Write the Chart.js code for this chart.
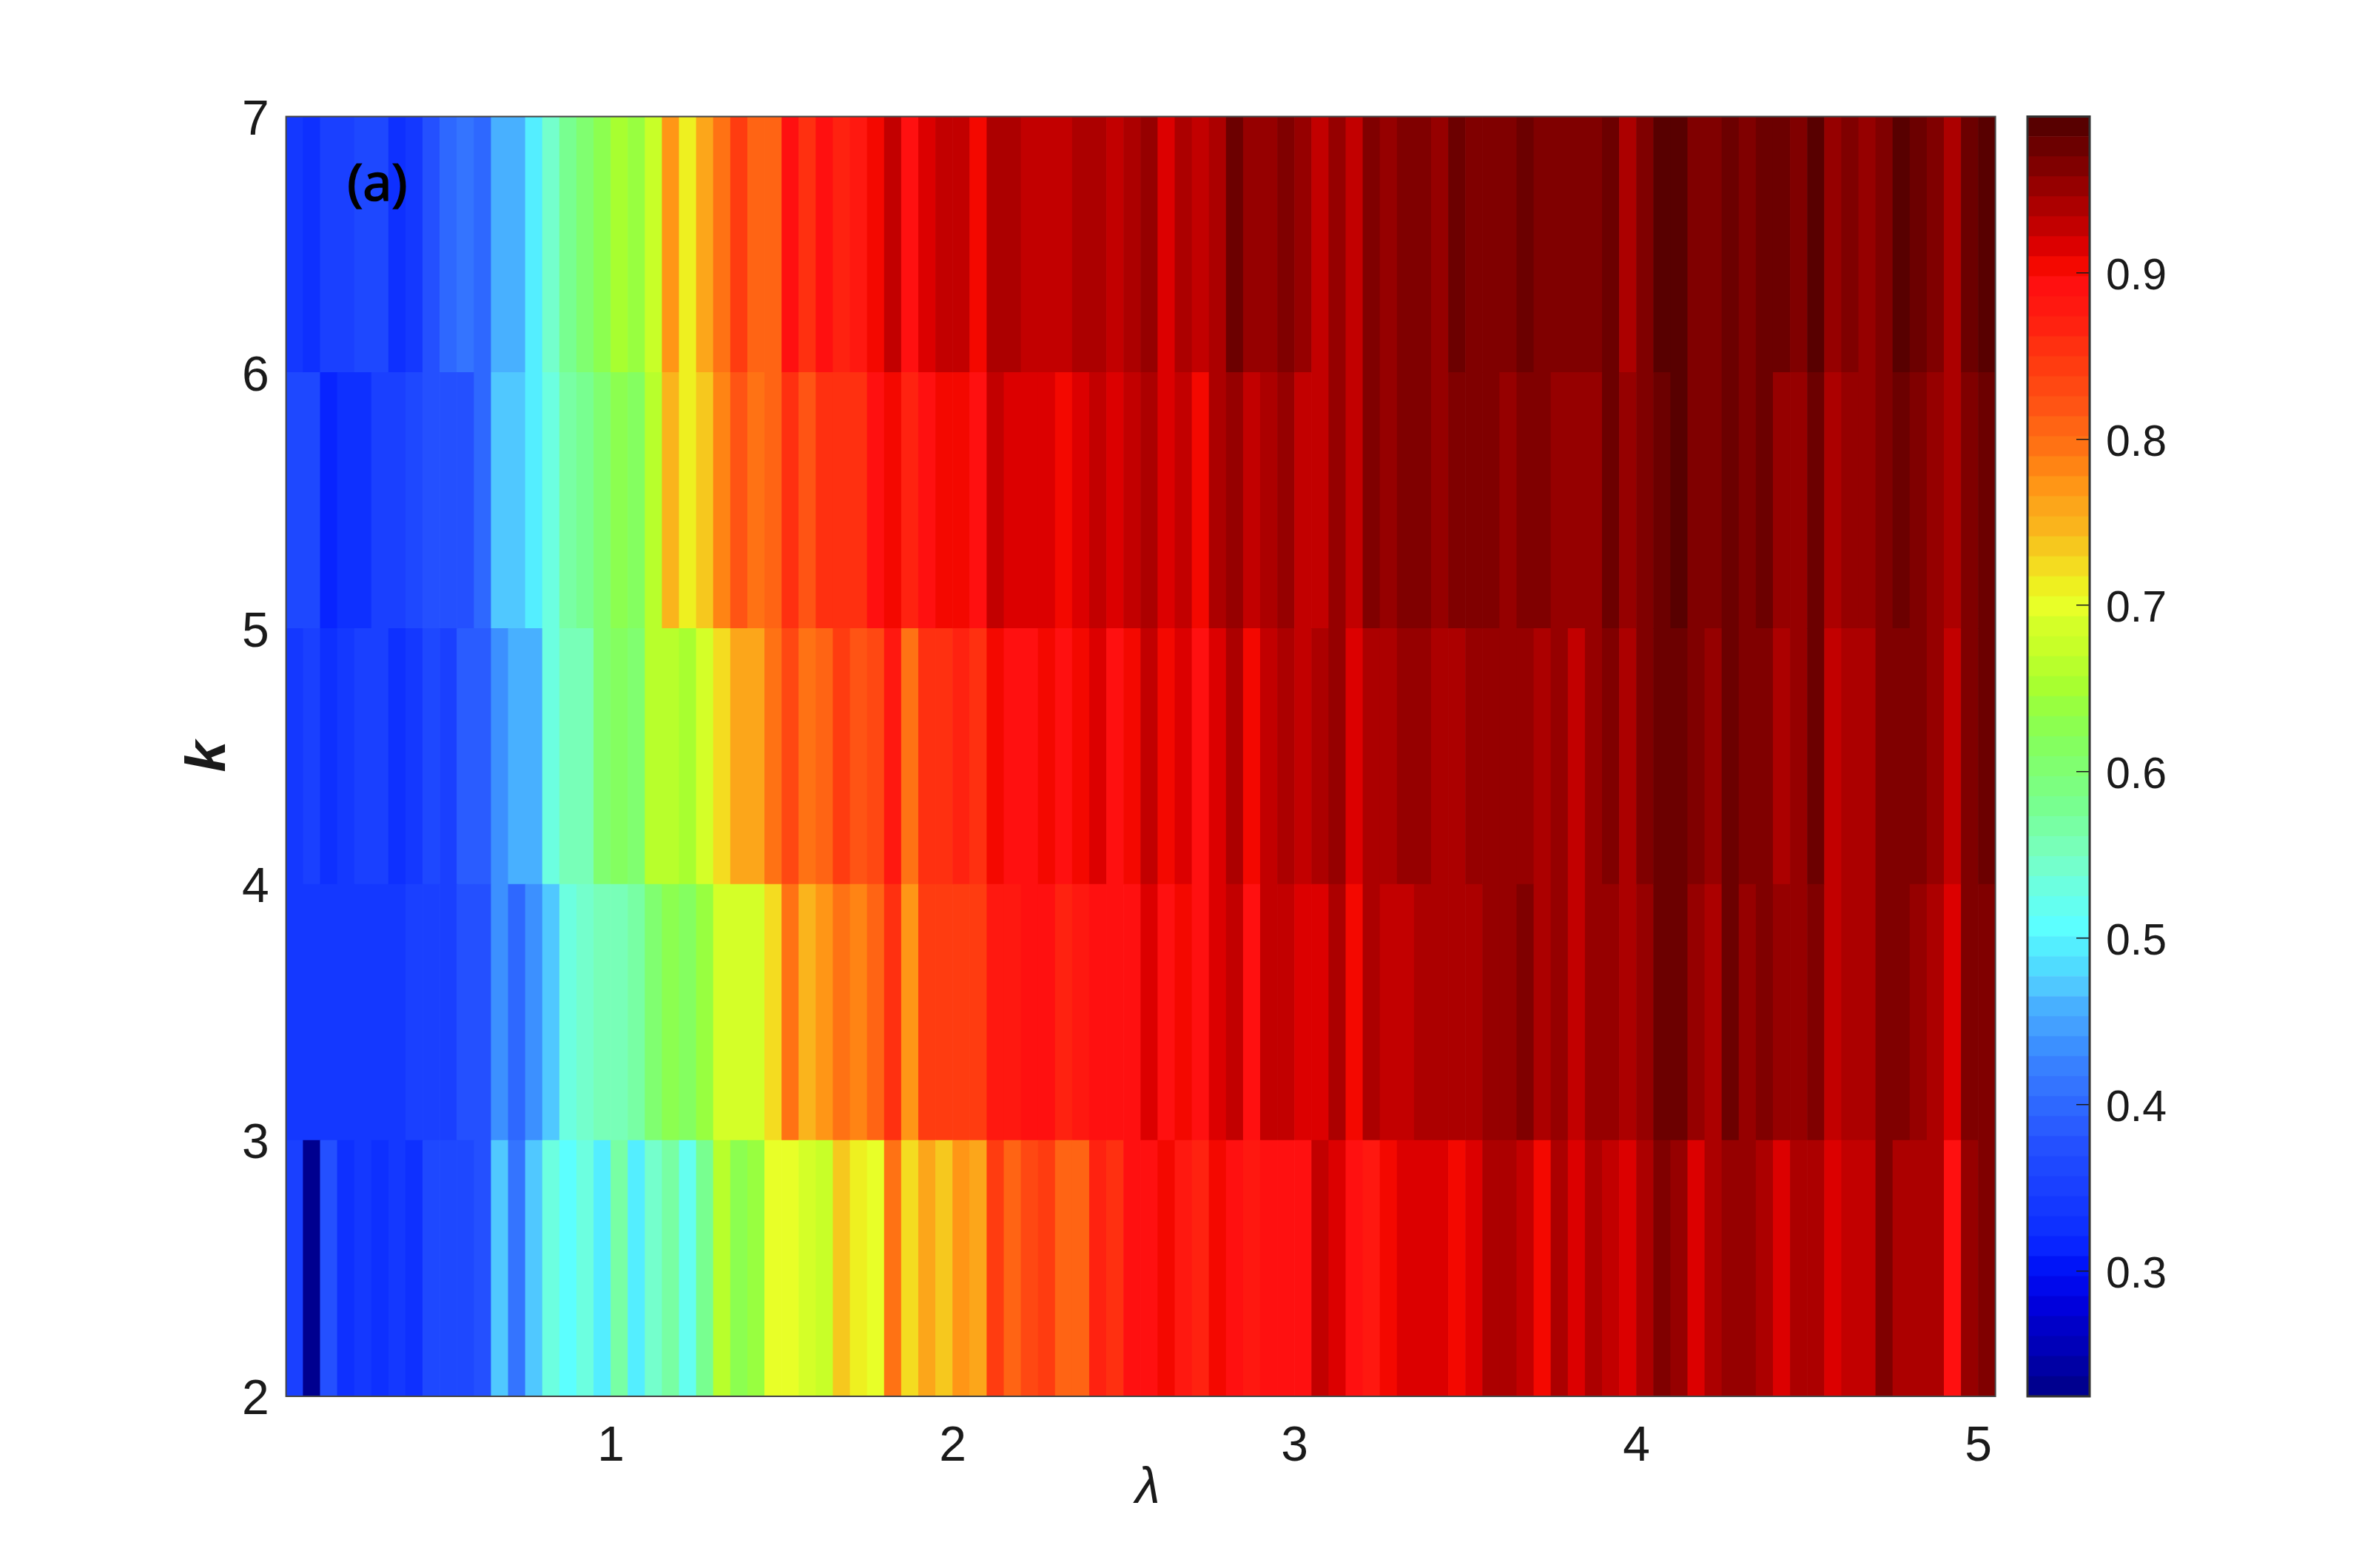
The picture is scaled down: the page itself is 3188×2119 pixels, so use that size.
<!DOCTYPE html>
<html>
<head>
<meta charset="utf-8">
<title>Heatmap of k against lambda</title>
<script src="https://cdn.jsdelivr.net/npm/chart.js@4/dist/chart.umd.js"></script>
<style>
html,body{margin:0;padding:0;background:#fff;}
#wrap{position:relative;width:3188px;height:2119px;background:#fff;}
canvas{position:absolute;left:0;top:0;}
</style>
</head>
<body>
<div id="wrap">
<canvas id="main" width="3188" height="2119"></canvas>
<canvas id="bar" width="3188" height="2119"></canvas>
</div>
<script>
// Row categories: each row spans k .. k+1
const kRows = [2, 3, 4, 5, 6];
const lambdaTicks = [1, 2, 3, 4, 5];
const kTicks = [2, 3, 4, 5, 6, 7];
const colorbarTicks = [0.3, 0.4, 0.5, 0.6, 0.7, 0.8, 0.9];
const lambdaStart = 0.05, lambdaStep = 0.05, lambdaCount = 100;
const lambdaCenters = Array.from({length: lambdaCount}, (_, i) => +(lambdaStart + (i + 0.5) * lambdaStep).toFixed(3));
const colorMin = 0.2247, colorMax = 0.9938;

// Values, one per lambda column
const rowK2 = [.351,.231,.375,.327,.339,.327,.339,.327,.363,.363,.363,.375,.471,.411,.471,.531,.507,.531,.495,.567,.495,.543,.567,.519,.579,.663,.627,.639,.699,.699,.687,.675,.735,
.711,.699,.795,.723,.759,.735,.771,.759,.843,.807,.831,.843,.807,.807,.867,.855,.891,.891,.903,.879,.867,.903,.891,.879,.891,.891,.891,.927,.915,.891,.879,.903,.915,.915,
.915,.903,.915,.939,.939,.927,.903,.939,.915,.939,.927,.915,.939,.963,.951,.915,.939,.951,.951,.939,.915,.939,.939,.915,.927,.927,.963,.939,.939,.939,.891,.951,.963];
const rowK3 = [.339,.339,.339,.339,.339,.339,.339,.351,.351,.351,.375,.375,.435,.399,.435,.471,.531,.543,.555,.555,.567,.603,.627,.615,.639,.687,.687,.687,.723,.795,.747,.771,.795,
.783,.807,.855,.771,.843,.843,.843,.843,.879,.879,.891,.891,.867,.879,.891,.891,.891,.915,.891,.903,.891,.915,.927,.891,.927,.927,.915,.915,.939,.903,.939,.927,.927,.939,
.939,.939,.939,.951,.951,.963,.939,.951,.927,.951,.951,.939,.951,.975,.975,.951,.939,.975,.951,.963,.951,.951,.963,.927,.939,.939,.963,.963,.951,.939,.915,.963,.963];
const rowK4 = [.339,.351,.327,.339,.351,.351,.327,.339,.363,.351,.387,.387,.435,.459,.459,.531,.555,.555,.603,.615,.603,.663,.663,.651,.687,.723,.759,.759,.795,.831,.795,.807,.843,
.819,.831,.879,.795,.855,.855,.867,.855,.903,.891,.891,.903,.891,.903,.915,.891,.903,.927,.903,.915,.891,.915,.939,.903,.927,.939,.927,.939,.951,.915,.939,.939,.951,.951,
.939,.939,.951,.951,.951,.951,.939,.951,.927,.951,.963,.939,.963,.975,.975,.963,.951,.975,.963,.963,.939,.951,.975,.927,.939,.939,.963,.963,.963,.951,.927,.963,.975];
const rowK5 = [.363,.363,.315,.327,.327,.351,.351,.363,.375,.375,.375,.399,.471,.471,.495,.531,.567,.579,.603,.627,.615,.663,.747,.711,.735,.783,.819,.795,.807,.855,.819,.855,.855,
.855,.891,.903,.867,.891,.903,.903,.891,.927,.915,.915,.915,.903,.915,.927,.915,.927,.939,.915,.927,.903,.939,.951,.927,.939,.951,.927,.927,.951,.927,.963,.951,.963,.963,
.951,.963,.963,.963,.951,.963,.963,.951,.951,.951,.975,.951,.963,.975,.987,.963,.963,.975,.963,.975,.951,.951,.975,.939,.951,.951,.963,.975,.963,.951,.939,.963,.975];
const rowK6 = [.339,.327,.351,.351,.363,.363,.327,.339,.375,.399,.411,.399,.459,.459,.495,.543,.579,.603,.627,.651,.639,.675,.771,.711,.759,.795,.843,.807,.807,.891,.855,.891,.867,
.879,.903,.927,.891,.915,.927,.927,.903,.939,.939,.927,.927,.927,.939,.939,.927,.939,.951,.915,.939,.927,.939,.975,.951,.951,.963,.951,.927,.951,.927,.963,.951,.963,.963,
.951,.975,.963,.963,.963,.975,.963,.963,.963,.963,.975,.939,.963,.987,.987,.963,.963,.975,.963,.975,.975,.963,.987,.951,.963,.951,.963,.987,.975,.963,.939,.975,.987];
const rowValues = [rowK2, rowK3, rowK4, rowK5, rowK6];

// 64-level jet palette as it appears in the picture's colour bar (low to high)
const palette = ['#00008f','#0000a4','#0000b8','#0000c8','#0000dc','#0008ec','#0014f8','#0824ff',
'#0e30ff','#1438ff','#1a40ff','#1e48ff','#2450ff','#2a5cff','#2e68ff','#3474ff',
'#3880ff','#3c90ff','#44a0ff','#48b0ff','#50c8ff','#50dcff','#54eeff','#5cffff',
'#64fff0','#6cffe0','#74ffcc','#78ffb8','#78ffa4','#78ff90','#7cff80','#80ff70',
'#84ff60','#8cff50','#98ff40','#a8ff30','#b8ff2c','#c8ff28','#d4ff28','#e8ff28',
'#eef020','#f4dc20','#f6c81e','#fab41c','#fca61a','#ff9616','#ff8414','#ff7214',
'#ff6414','#ff5414','#ff4812','#ff3c10','#ff3010','#ff2210','#ff1810','#ff1010',
'#f40800','#dc0000','#c20000','#ac0000','#960000','#800000','#6c0000','#580000'];

const levelStep = (colorMax - colorMin) / palette.length;
function colorOf(v) {
  const i = Math.floor((v - colorMin) / levelStep);
  return palette[Math.max(0, Math.min(palette.length - 1, i))];
}

const tickFont = {family: '"Liberation Sans", Arial, sans-serif', size: 66};
const textColor = '#1a1a1a';
const panelLabel = {text: '(a)', lambda: 0.317, k: 6.73};

const framePlugin = {
  id: 'frame',
  afterDraw(chart, args, opts) {
    const a = chart.chartArea, c = chart.ctx;
    c.save();
    c.strokeStyle = opts.color;
    c.lineWidth = opts.width;
    c.strokeRect(a.left, a.top, a.right - a.left, a.bottom - a.top);
    c.restore();
  }
};
const panelLabelPlugin = {
  id: 'panelLabel',
  afterDraw(chart) {
    const c = chart.ctx;
    const px = chart.scales.x.getPixelForValue(panelLabel.lambda);
    const py = chart.scales.y.getPixelForValue(panelLabel.k);
    c.save();
    c.font = '400 70px "Noto Sans", sans-serif';
    c.fillStyle = '#000';
    c.strokeStyle = '#000';
    c.lineWidth = 1.6;
    c.textAlign = 'center';
    c.textBaseline = 'middle';
    c.fillText(panelLabel.text, px, py);
    c.strokeText(panelLabel.text, px, py);
    c.restore();
  }
};

new Chart(document.getElementById('main'), {
  type: 'bar',
  data: {
    datasets: kRows.map((k, r) => ({
      label: 'k=' + k,
      data: lambdaCenters.map((x, i) => ({x: x, y: [k, k + 1]})),
      backgroundColor: rowValues[r].map(colorOf),
      borderWidth: 0,
      barPercentage: 1,
      categoryPercentage: 1,
      grouped: false
    }))
  },
  options: {
    responsive: false,
    animation: false,
    layout: {padding: {left: 0, top: 157.5, right: 491.4, bottom: 0}},
    plugins: {legend: {display: false}, tooltip: {enabled: false}, frame: {color: '#444', width: 2}},
    scales: {
      x: {
        type: 'linear', offset: false, min: lambdaStart, max: lambdaStart + lambdaCount * lambdaStep,
        grid: {display: false, offset: false},
        border: {display: false},
        afterBuildTicks(s) { s.ticks = lambdaTicks.map(v => ({value: v})); },
        afterFit(s) { s.height = 232; },
        ticks: {font: tickFont, color: textColor, padding: 21, autoSkip: false, maxRotation: 0, callback: v => String(v)},
        title: {display: true, text: ' λ', color: textColor, padding: {top: 0, bottom: 66},
          font: {family: tickFont.family, size: 68, style: 'italic'}}
      },
      y: {
        type: 'linear', min: 2, max: 7,
        grid: {display: false},
        border: {display: false},
        afterBuildTicks(s) { s.ticks = kTicks.map(v => ({value: v})); },
        afterFit(s) { s.width = 386.6; },
        ticks: {font: tickFont, color: textColor, padding: 15, labelOffset: 6, autoSkip: false, callback: v => String(v)},
        title: {display: true, text: 'k', color: textColor, padding: {top: 237, bottom: 0},
          font: {family: tickFont.family, size: 76, style: 'italic', weight: 'bold'}}
      }
    }
  },
  plugins: [framePlugin, panelLabelPlugin]
});

new Chart(document.getElementById('bar'), {
  type: 'bar',
  data: {
    labels: [''],
    datasets: palette.map((col, i) => ({
      data: [[colorMin + i * levelStep, colorMin + (i + 1) * levelStep]],
      backgroundColor: col,
      borderWidth: 0,
      barPercentage: 1,
      categoryPercentage: 1,
      grouped: false
    }))
  },
  options: {
    responsive: false,
    animation: false,
    layout: {padding: {left: 2740, top: 157.5, right: 0, bottom: 232}},
    plugins: {legend: {display: false}, tooltip: {enabled: false}, frame: {color: '#333', width: 3}},
    scales: {
      x: {display: false},
      y: {
        type: 'linear', position: 'right', min: colorMin, max: colorMax,
        border: {display: false},
        grid: {drawOnChartArea: false, drawTicks: true, tickLength: -18, color: textColor, lineWidth: 1.5, z: 1},
        afterBuildTicks(s) { s.ticks = colorbarTicks.map(v => ({value: v})); },
        afterFit(s) { s.width = 364; },
        ticks: {font: {family: tickFont.family, size: 59}, color: textColor, padding: 40, labelOffset: 6, autoSkip: false, callback: v => v.toFixed(1)}
      }
    }
  },
  plugins: [framePlugin]
});
</script>
</body>
</html>
